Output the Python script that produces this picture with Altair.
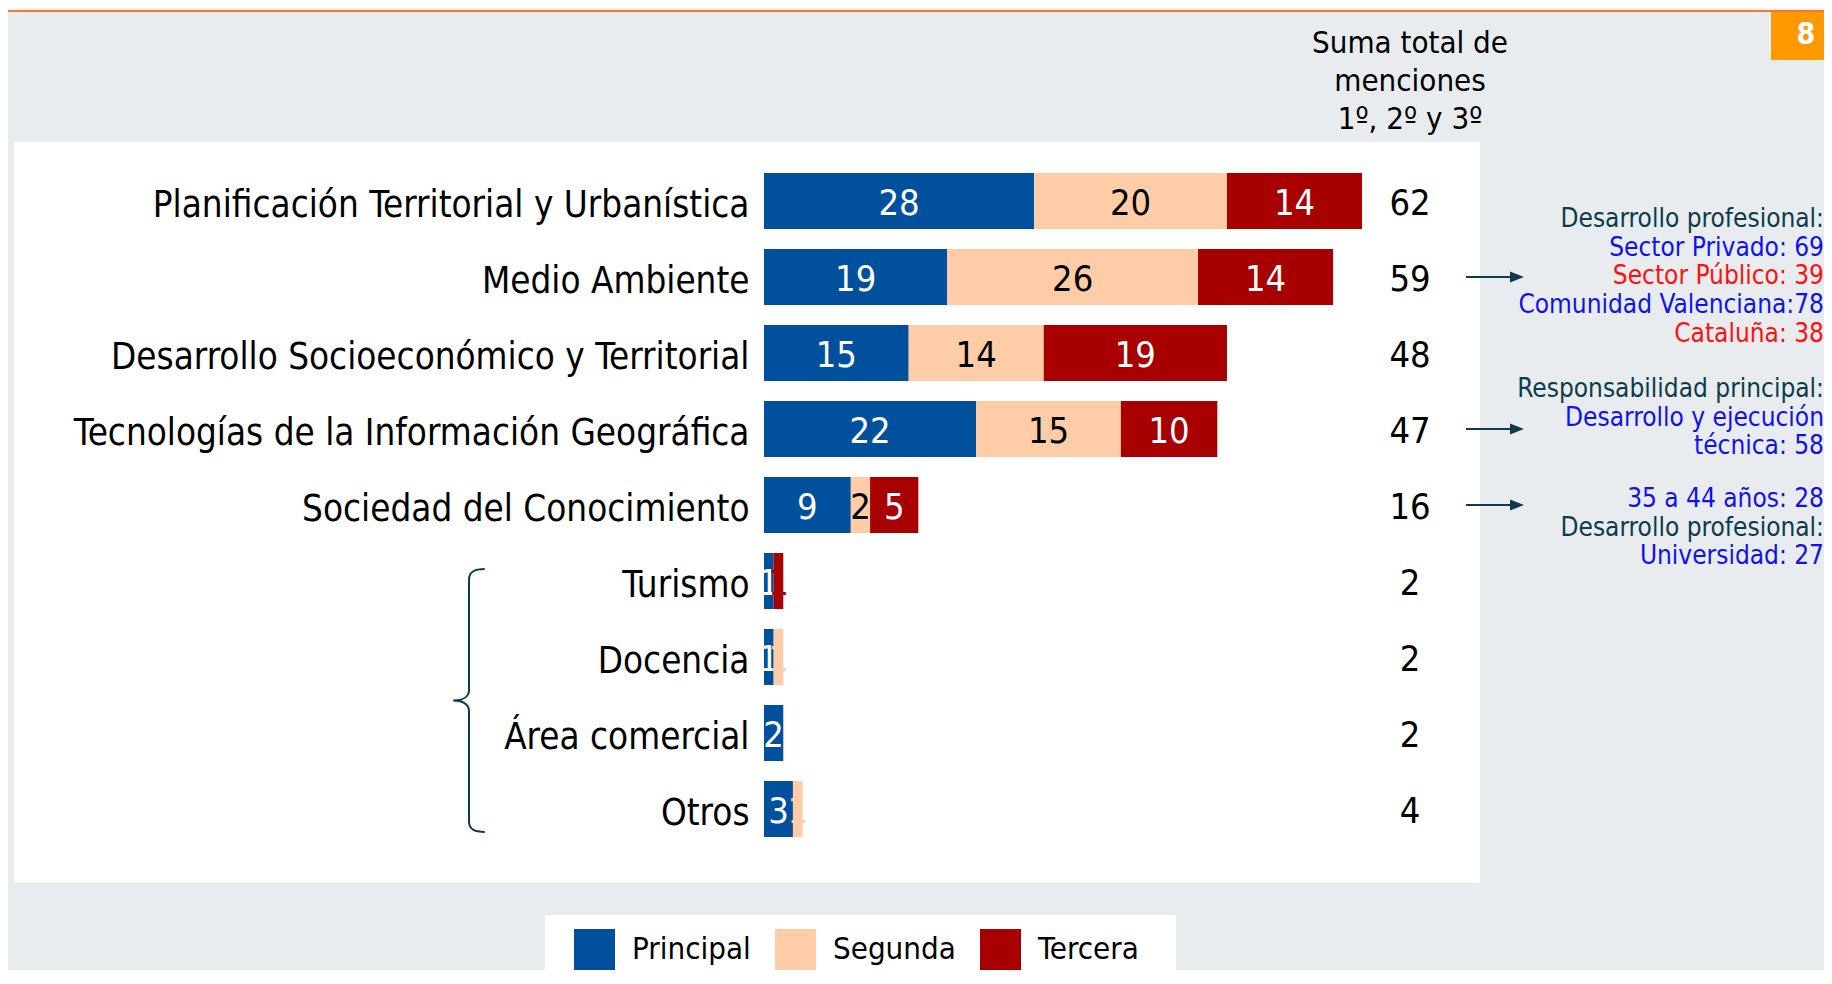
import altair as alt
import pandas as pd

# ---------------- data ----------------
categories = [
    "Planificación Territorial y Urbanística",
    "Medio Ambiente",
    "Desarrollo Socioeconómico y Territorial",
    "Tecnologías de la Información Geográfica",
    "Sociedad del Conocimiento",
    "Turismo",
    "Docencia",
    "Área comercial",
    "Otros",
]
principal = [28, 19, 15, 22, 9, 1, 1, 2, 3]
segunda = [20, 26, 14, 15, 2, 0, 1, 0, 1]
tercera = [14, 14, 19, 10, 5, 1, 0, 0, 0]

series_names = ["Principal", "Segunda", "Tercera"]
series_colors = ["#00509E", "#FECCA6", "#A80000"]
series_text_colors = ["white", "black", "white"]

header_lines = ["Suma total de", "menciones", "1º, 2º y 3º"]
page_number = "8"

annot_anchor = ["Medio Ambiente", "Tecnologías de la Información Geográfica", "Sociedad del Conocimiento"]
annot_text = [
    ["Desarrollo profesional:", "Sector Privado: 69", "Sector Público: 39", "Comunidad Valenciana:78", "Cataluña: 38"],
    ["Responsabilidad principal:", "Desarrollo y ejecución", "técnica: 58"],
    ["35 a 44 años: 28", "Desarrollo profesional:", "Universidad: 27"],
]
annot_kind = [
    ["head", "blue", "red", "blue", "red"],
    ["head", "blue", "blue"],
    ["blue", "head", "blue"],
]

# ---------------- styles / layout ----------------
FONT = "DejaVu Sans Condensed"
BG = "#E8ECEE"
DARK = "#0D3B4C"
kind_colors = {"head": DARK, "blue": "#1010F0", "red": "#FF1010"}
LABEL_FS = 36.5
NUM_FS = 36
ANNOT_FS = 26
LINE_H = 28.7
annot_first_offset = [-58, -40, -6]

W, H = 598, 684
PAD_L, PAD_T, PAD_R = 756, 155, 462
TOTAL_H = 962
PAD_B = TOTAL_H - PAD_T - H

# ---------------- build table ----------------
rows = []
for i, cat in enumerate(categories):
    vals = [principal[i], segunda[i], tercera[i]]
    start = 0
    for j, v in enumerate(vals):
        if v > 0:
            tc = series_text_colors[j] if (v > 1 or j == 0) else series_colors[j]
            rows.append({"cat": cat, "series": series_names[j], "order": j,
                         "value": v, "start": start, "end": start + v,
                         "mid": start + v / 2, "tcolor": tc})
        start += v
df = pd.DataFrame(rows)
tot = pd.DataFrame({"cat": categories,
                    "total": [p + s + t for p, s, t in zip(principal, segunda, tercera)]})

one = pd.DataFrame({"a": [0]})

yscale = alt.Scale(domain=categories, paddingInner=0.263, paddingOuter=0.1315)
yaxis = alt.Axis(title=None, ticks=False, domain=False, tickSize=0, labelPadding=15,
                 labelFont=FONT, labelFontSize=LABEL_FS, labelColor="black",
                 labelLimit=900, grid=False, zindex=2, labelOffset=4.5)
Y = alt.Y("cat:N", scale=yscale, axis=yaxis, sort=None)
xscale = alt.Scale(domain=[0, 62], nice=False, zero=True)

# decorations
top_band = alt.Chart(one).mark_rect(color="#F2F2F2").encode(
    x=alt.value(-PAD_L), x2=alt.value(W + PAD_R), y=alt.value(-PAD_T), y2=alt.value(-153))
orange_line = alt.Chart(one).mark_rule(color="#F47A2A", strokeWidth=2).encode(
    x=alt.value(-PAD_L), x2=alt.value(W + PAD_R), y=alt.value(-152))
page_box = alt.Chart(one).mark_rect(color="#FF9900").encode(
    x=alt.value(1007), x2=alt.value(W + PAD_R), y=alt.value(-151), y2=alt.value(-103))
page_txt = alt.Chart(one).mark_text(font=FONT, fontSize=30, fontWeight="bold", color="white",
                                    align="center", baseline="middle").encode(
    x=alt.value(1042), y=alt.value(-128), text=alt.value(page_number))
panel = alt.Chart(one).mark_rect(color="white").encode(
    x=alt.value(-750), x2=alt.value(716), y=alt.value(-21), y2=alt.value(720))
legend_box = alt.Chart(one).mark_rect(color="white").encode(
    x=alt.value(-219), x2=alt.value(412), y=alt.value(752), y2=alt.value(900))

bars = alt.Chart(df).mark_bar().encode(
    x=alt.X("start:Q", scale=xscale, axis=None),
    x2="end:Q",
    y=Y,
    color=alt.Color("series:N",
                    scale=alt.Scale(domain=series_names, range=series_colors),
                    legend=alt.Legend(orient="none", legendX=-190, legendY=766,
                                      direction="horizontal", title=None,
                                      symbolType="square", symbolSize=1681,
                                      symbolStrokeWidth=0, symbolOpacity=1,
                                      labelFont=FONT, labelFontSize=31,
                                      labelColor="black", labelOffset=17,
                                      columnPadding=24, padding=0, zindex=3)),
)
seg_text = alt.Chart(df).mark_text(font=FONT, fontSize=NUM_FS, align="center",
                                   baseline="middle", dy=3).encode(
    x=alt.X("mid:Q", scale=xscale, axis=None),
    y=Y,
    text="value:Q",
    color=alt.Color("tcolor:N", scale=None),
)
tot_text = alt.Chart(tot).mark_text(font=FONT, fontSize=NUM_FS, align="center",
                                    baseline="middle", color="black", dy=3).encode(
    x=alt.value(646), y=Y, text="total:Q")

header = alt.Chart(one).mark_text(font=FONT, fontSize=31, align="center", baseline="middle",
                                  color="black", lineBreak="\n", lineHeight=38).encode(
    x=alt.value(646), y=alt.value(-119), text=alt.value("\n".join(header_lines)))

annot_layers = []
for g, anchor in enumerate(annot_anchor):
    for k, (txt, kind) in enumerate(zip(annot_text[g], annot_kind[g])):
        d = pd.DataFrame({"cat": [anchor], "t": [txt]})
        annot_layers.append(
            alt.Chart(d).mark_text(font=FONT, fontSize=ANNOT_FS, align="right", baseline="middle",
                                   color=kind_colors[kind],
                                   dy=annot_first_offset[g] + k * LINE_H).encode(
                x=alt.value(1060), y=Y, text="t:N"))

arrow_df = pd.DataFrame({"cat": annot_anchor})
arrow_line = alt.Chart(arrow_df).mark_rule(color=DARK, strokeWidth=2).encode(
    x=alt.value(702), x2=alt.value(748), y=Y)
arrow_head = alt.Chart(arrow_df).mark_point(
    shape="M -1 -0.8 L 1 0 L -1 0.8 Z", filled=True, size=196, color=DARK, opacity=1).encode(
    x=alt.value(753), y=Y)

brace = alt.Chart(one).mark_point(
    shape=("M 0.12 -1 C 0.04 -1 0 -0.98 0 -0.92 L 0 -0.08 C 0 -0.02 -0.06 0 -0.12 0 "
           "C -0.06 0 0 0.02 0 0.08 L 0 0.92 C 0 0.98 0.04 1 0.12 1"),
    filled=False, size=263 * 263, color=DARK, strokeWidth=2, opacity=1).encode(
    x=alt.value(-295), y=alt.value(537.5))

chart = alt.layer(
    top_band, orange_line, page_box, page_txt, panel, legend_box, header,
    bars, seg_text, tot_text, *annot_layers, arrow_line, arrow_head, brace,
).properties(
    width=W, height=H,
    autosize=alt.AutoSizeParams(type="none"),
    padding={"left": PAD_L, "top": PAD_T, "right": PAD_R, "bottom": PAD_B},
).configure(
    background=BG, font=FONT,
).configure_view(stroke=None)

chart.save("out.html", embed_options={"renderer": "svg", "actions": False})
